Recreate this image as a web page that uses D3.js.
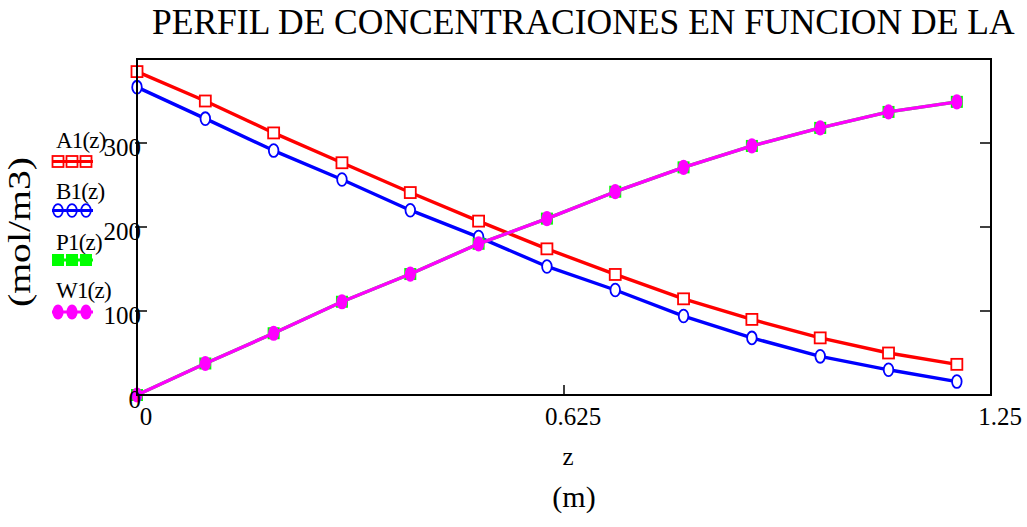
<!DOCTYPE html>
<html>
<head>
<meta charset="utf-8">
<script src="https://cdn.jsdelivr.net/npm/d3@7"></script>
<style>
  html, body { margin: 0; padding: 0; background: #fff; }
  svg { display: block; font-family: "Liberation Serif", "Times New Roman", serif; }
</style>
</head>
<body>
<svg id="chart" width="1027" height="527"></svg>
<script>
// Axial position z (m) at which the profiles were evaluated
const zValues = [0, 0.1, 0.2, 0.3, 0.4, 0.5, 0.6, 0.7, 0.8, 0.9, 1.0, 1.1, 1.2];
// Concentrations (mol/m3)
const A1 = [385, 350, 312, 276.5, 241, 207, 174, 143.5, 114.5, 90, 68, 50, 36.5];
const B1 = [366.5, 329, 291, 256.5, 220, 188, 153, 125, 94, 68, 46, 30, 16];
const P1 = [0, 37.5, 73.5, 111, 144, 180, 210, 242, 271, 296.5, 318, 337, 349];
const W1 = [0, 37.5, 73.5, 111, 144, 180, 210, 242, 271, 296.5, 318, 337, 349];

const seriesNames = ["A1(z)", "B1(z)", "P1(z)", "W1(z)"];
const xTicks = [0, 0.625, 1.25];
const xTickLabels = ["0", "0.625", "1.25"];
const yTicks = [0, 100, 200, 300];
const yTickLabels = ["0", "100", "200", "300"];

const titleText = "PERFIL DE CONCENTRACIONES EN FUNCION DE LA";
const xLabel = "z";
const xUnit = "(m)";
const yLabel = "(mol/m3)";

const svg = d3.select("#chart");
const W = 1027, H = 527;
svg.append("rect").attr("width", W).attr("height", H).attr("fill", "#fff");

const plot = { left: 137, right: 991, top: 59, bottom: 395 };
const x = d3.scaleLinear().domain([0, 1.25]).range([plot.left, plot.right]);
const y = d3.scaleLinear().domain([0, 400]).range([plot.bottom, plot.top]);

// Series styling
const styles = [
  { name: seriesNames[0], values: A1, color: "#ff0000", marker: "square", filled: false },
  { name: seriesNames[1], values: B1, color: "#0000ff", marker: "ellipse", filled: false },
  { name: seriesNames[2], values: P1, color: "#00ff00", marker: "square", filled: true },
  { name: seriesNames[3], values: W1, color: "#ff00ff", marker: "ellipse", filled: true }
];

function drawMarker(g, cx, cy, s, legend) {
  if (s.marker === "square") {
    const size = s.filled ? 12 : 11;
    g.append("rect")
      .attr("x", cx - size / 2).attr("y", cy - size / 2)
      .attr("width", size).attr("height", size)
      .attr("fill", s.filled ? s.color : (legend ? "none" : "#fff"))
      .attr("stroke", s.color).attr("stroke-width", s.filled ? 0 : 1.8);
  } else {
    g.append("ellipse")
      .attr("cx", cx).attr("cy", cy)
      .attr("rx", s.filled ? 5.6 : 4.8).attr("ry", s.filled ? 7.6 : 6.4)
      .attr("fill", s.filled ? s.color : (legend ? "none" : "#fff"))
      .attr("stroke", s.color).attr("stroke-width", s.filled ? 0 : 1.8);
  }
}

// Series lines and markers
const line = d3.line().x(d => x(d[0])).y(d => y(d[1]));
const gSeries = svg.append("g");
styles.forEach(s => {
  const pts = zValues.map((z, i) => [z, s.values[i]]);
  const g = gSeries.append("g");
  g.append("path")
    .attr("d", line(pts))
    .attr("fill", "none")
    .attr("stroke", s.color)
    .attr("stroke-width", 3.4)
    .attr("stroke-linejoin", "round");
  pts.forEach(p => drawMarker(g, x(p[0]), y(p[1]), s, false));
});

// Frame
svg.append("rect")
  .attr("x", plot.left).attr("y", plot.top)
  .attr("width", plot.right - plot.left).attr("height", plot.bottom - plot.top)
  .attr("fill", "none").attr("stroke", "#000").attr("stroke-width", 2);

// Y ticks (inside, both sides) and the middle x tick
const gTicks = svg.append("g").attr("stroke", "#000").attr("stroke-width", 1.5);
yTicks.filter(v => v > 0).forEach(v => {
  gTicks.append("line").attr("x1", plot.left - 2).attr("x2", plot.left + 10)
    .attr("y1", y(v)).attr("y2", y(v));
  gTicks.append("line").attr("x1", plot.right - 11).attr("x2", plot.right)
    .attr("y1", y(v)).attr("y2", y(v));
});
xTicks.filter(v => v > 0 && v < 1.25).forEach(v => {
  gTicks.append("line").attr("x1", x(v)).attr("x2", x(v))
    .attr("y1", plot.bottom).attr("y2", plot.bottom - 10);
});

// Tick labels
yTicks.forEach((v, i) => {
  svg.append("text")
    .attr("x", plot.left + 4).attr("y", y(v) + 12.5)
    .attr("text-anchor", "end")
    .attr("font-size", 25)
    .text(yTickLabels[i]);
});
xTicks.forEach((v, i) => {
  svg.append("text")
    .attr("x", x(v) + 9).attr("y", 425)
    .attr("text-anchor", "middle")
    .attr("font-size", 25)
    .text(xTickLabels[i]);
});

// Axis titles
svg.append("text").attr("x", 568).attr("y", 465)
  .attr("text-anchor", "middle").attr("font-size", 25).text(xLabel);
svg.append("text").attr("x", 574).attr("y", 507)
  .attr("text-anchor", "middle").attr("font-size", 30).text(xUnit);
svg.append("text")
  .attr("transform", "translate(30,232) rotate(-90)")
  .attr("text-anchor", "middle").attr("font-size", 31)
  .attr("textLength", 150).attr("lengthAdjust", "spacingAndGlyphs")
  .text(yLabel);

// Title
svg.append("text").attr("x", 152).attr("y", 34)
  .attr("font-size", 35.5).text(titleText);

// Legend
const legendRows = [
  { textY: 148, lineY: 161.5 },
  { textY: 199, lineY: 210.5 },
  { textY: 250, lineY: 260 },
  { textY: 297.5, lineY: 312 }
];
styles.forEach((s, i) => {
  const r = legendRows[i];
  const g = svg.append("g");
  g.append("text").attr("x", 56).attr("y", r.textY)
    .attr("font-size", 23).attr("letter-spacing", -0.8).text(s.name);
  g.append("line").attr("x1", 52).attr("x2", 93)
    .attr("y1", r.lineY).attr("y2", r.lineY)
    .attr("stroke", s.color).attr("stroke-width", 3);
  [58, 72, 86].forEach(cx => drawMarker(g, cx, r.lineY, s, true));
});
</script>
</body>
</html>
